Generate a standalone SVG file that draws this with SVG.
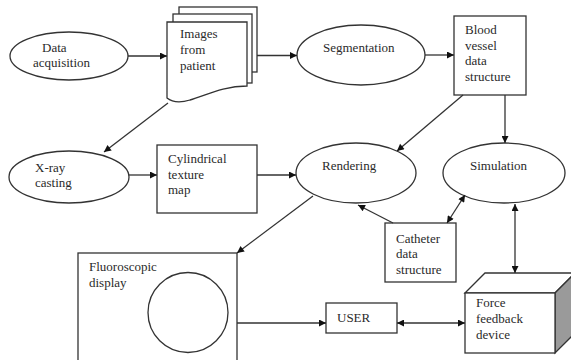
<svg xmlns="http://www.w3.org/2000/svg" width="571" height="360" viewBox="0 0 571 360">
<defs>
<style>
.s{fill:#fff;stroke:#333;stroke-width:1.3}
.t{font-family:"Liberation Serif","Times New Roman",serif;font-size:13px;fill:#2a2a2a}
.c{fill:none;stroke:#333;stroke-width:1.3}
</style>
<marker id="ah" viewBox="0 0 10 10" refX="10" refY="5" markerWidth="9" markerHeight="7" markerUnits="userSpaceOnUse" orient="auto-start-reverse">
<path d="M0,0 L10,5 L0,10 z" fill="#111"/>
</marker>
</defs>
<rect width="571" height="360" fill="#fff"/>
<g id="data-acquisition">
<ellipse class="s" cx="69" cy="56" rx="59" ry="24"/>
<text class="t" x="42" y="52">Data</text>
<text class="t" x="33" y="67">acquisition</text>
</g>
<g id="images-from-patient">
<rect class="s" x="179" y="7" width="78" height="65"/>
<rect class="s" x="173" y="14" width="79" height="69"/>
<path class="s" d="M167,22 H247 V86 C222,86 205,96 190,100 C180,103 172,102 167,98 Z"/>
<text class="t" x="180" y="38">Images</text>
<text class="t" x="180" y="54">from</text>
<text class="t" x="180" y="70">patient</text>
</g>
<g id="segmentation">
<ellipse class="s" cx="361" cy="55" rx="64" ry="30"/>
<text class="t" x="323" y="52">Segmentation</text>
</g>
<g id="blood-vessel-data-structure">
<rect class="s" x="454" y="16" width="72" height="79"/>
<text class="t" x="465" y="34">Blood</text>
<text class="t" x="465" y="50">vessel</text>
<text class="t" x="465" y="65">data</text>
<text class="t" x="465" y="81">structure</text>
</g>
<g id="x-ray-casting">
<ellipse class="s" cx="69" cy="177" rx="60" ry="26"/>
<text class="t" x="35" y="172">X-ray</text>
<text class="t" x="35" y="187">casting</text>
</g>
<g id="cylindrical-texture-map">
<rect class="s" x="157" y="145" width="100" height="68"/>
<text class="t" x="168" y="163">Cylindrical</text>
<text class="t" x="168" y="178.5">texture</text>
<text class="t" x="168" y="194">map</text>
</g>
<g id="rendering">
<ellipse class="s" cx="356" cy="173" rx="60" ry="30"/>
<text class="t" x="322" y="170">Rendering</text>
</g>
<g id="simulation">
<ellipse class="s" cx="504" cy="173" rx="61" ry="30"/>
<text class="t" x="470" y="170">Simulation</text>
</g>
<g id="catheter-data-structure">
<rect class="s" x="385" y="223" width="71" height="59"/>
<text class="t" x="396" y="243">Catheter</text>
<text class="t" x="396" y="258">data</text>
<text class="t" x="396" y="274">structure</text>
</g>
<g id="fluoroscopic-display">
<rect class="s" x="78" y="253" width="159" height="130"/>
<circle class="s" cx="188" cy="312.5" r="40"/>
<text class="t" x="89" y="271">Fluoroscopic</text>
<text class="t" x="89" y="287">display</text>
</g>
<g id="user">
<rect class="s" x="326" y="303" width="71" height="30"/>
<text class="t" x="337" y="322">USER</text>
</g>
<g id="force-feedback-device">
<path class="s" d="M465,293 L485,273 L575,273 L555,293 Z"/>
<path d="M555,293 L575,273 L575,333 L555,353 Z" fill="#9a9a9a" stroke="#333" stroke-width="1.3"/>
<rect class="s" x="465" y="293" width="90" height="60"/>
<text class="t" x="476" y="307">Force</text>
<text class="t" x="476" y="323">feedback</text>
<text class="t" x="476" y="339">device</text>
</g>
<g id="connectors">
<line class="c" x1="128" y1="56" x2="167" y2="56" marker-end="url(#ah)"/>
<line class="c" x1="257" y1="55.5" x2="297" y2="55.5" marker-end="url(#ah)"/>
<line class="c" x1="425" y1="55" x2="454" y2="55" marker-end="url(#ah)"/>
<line class="c" x1="168" y1="103" x2="104" y2="152" marker-end="url(#ah)"/>
<line class="c" x1="129" y1="175" x2="157" y2="175" marker-end="url(#ah)"/>
<line class="c" x1="257" y1="175" x2="296" y2="175" marker-end="url(#ah)"/>
<line class="c" x1="463" y1="95" x2="397" y2="151" marker-end="url(#ah)"/>
<line class="c" x1="505" y1="95" x2="505" y2="143" marker-end="url(#ah)"/>
<line class="c" x1="313" y1="196" x2="237" y2="253" marker-end="url(#ah)"/>
<line class="c" x1="393" y1="223" x2="358" y2="205" marker-end="url(#ah)"/>
<line class="c" x1="447" y1="223" x2="465" y2="195" marker-start="url(#ah)" marker-end="url(#ah)"/>
<line class="c" x1="515" y1="204" x2="515" y2="273" marker-start="url(#ah)" marker-end="url(#ah)"/>
<line class="c" x1="237" y1="323" x2="326" y2="323" marker-end="url(#ah)"/>
<line class="c" x1="397" y1="323" x2="465" y2="323" marker-start="url(#ah)" marker-end="url(#ah)"/>
</g>
</svg>
